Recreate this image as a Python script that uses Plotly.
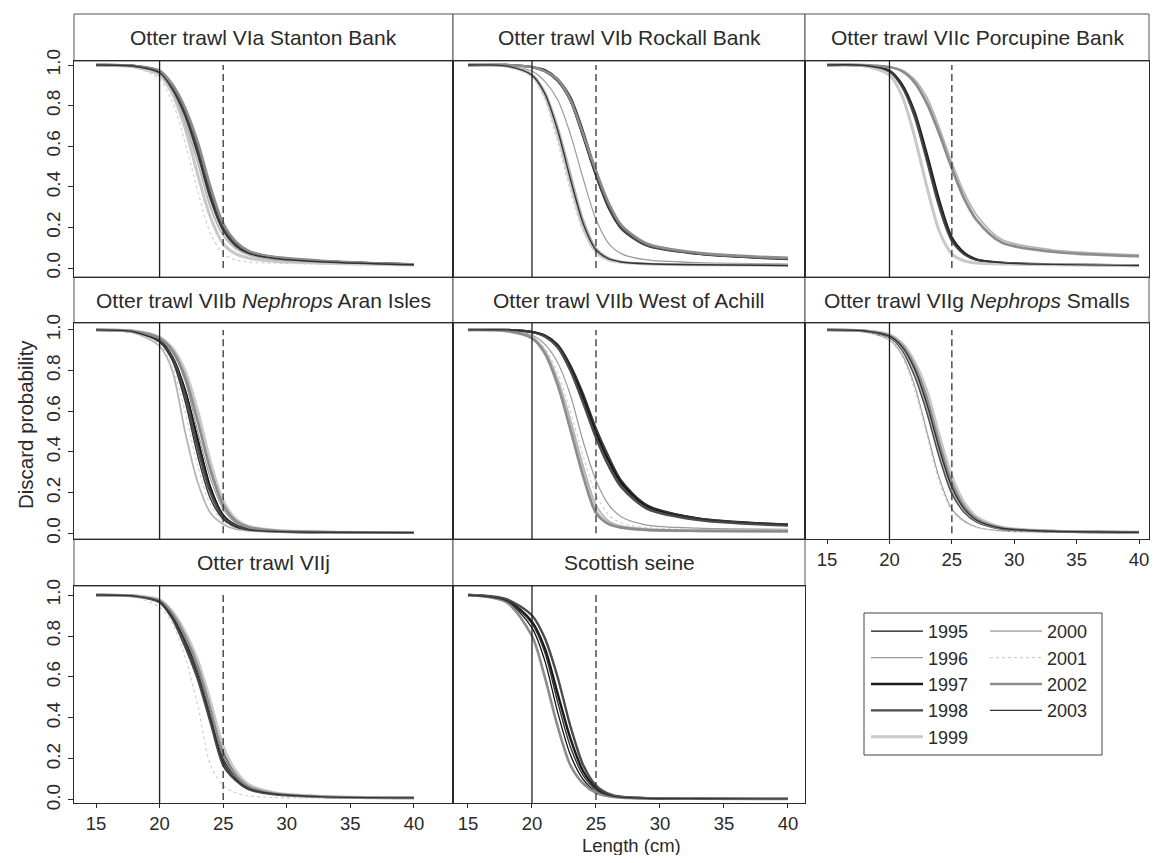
import plotly.graph_objects as go

# ---------------- data ----------------
length_cm = [15, 18, 20, 21, 22, 23, 24, 25, 26, 27, 29, 33, 40]
years = [1995, 1996, 1997, 1998, 1999, 2000, 2001, 2002, 2003]
panel_titles = [
    "Otter trawl VIa Stanton Bank",
    "Otter trawl VIb Rockall Bank",
    "Otter trawl VIIc Porcupine Bank",
    "Otter trawl VIIb <i>Nephrops</i> Aran Isles",
    "Otter trawl VIIb West of Achill",
    "Otter trawl VIIg <i>Nephrops</i> Smalls",
    "Otter trawl VIIj",
    "Scottish seine",
]
x_tick_vals = [15, 20, 25, 30, 35, 40]
y_tick_vals = [0.0, 0.2, 0.4, 0.6, 0.8, 1.0]
y_tick_text = ["0.0", "0.2", "0.4", "0.6", "0.8", "1.0"]
mls_cm = 20   # solid reference line
ref_cm = 25   # dashed reference line

stanton = {
    1995: [1.0, 0.995, 0.965, 0.89, 0.76, 0.57, 0.35, 0.19, 0.11, 0.075, 0.048, 0.03, 0.016],
    1996: [1.0, 0.994, 0.96, 0.88, 0.74, 0.55, 0.33, 0.18, 0.105, 0.07, 0.045, 0.029, 0.016],
    1997: [1.0, 0.996, 0.97, 0.9, 0.78, 0.6, 0.38, 0.21, 0.12, 0.08, 0.052, 0.033, 0.018],
    1998: [1.0, 0.995, 0.968, 0.895, 0.77, 0.59, 0.37, 0.2, 0.115, 0.078, 0.05, 0.032, 0.017],
    1999: [1.0, 0.99, 0.95, 0.86, 0.69, 0.46, 0.25, 0.12, 0.07, 0.05, 0.034, 0.024, 0.015],
    2000: [1.0, 0.993, 0.958, 0.875, 0.72, 0.52, 0.3, 0.16, 0.095, 0.065, 0.042, 0.028, 0.016],
    2001: [1.0, 0.99, 0.93, 0.82, 0.62, 0.38, 0.17, 0.07, 0.04, 0.03, 0.024, 0.019, 0.014],
    2002: [1.0, 0.996, 0.972, 0.905, 0.79, 0.62, 0.4, 0.22, 0.13, 0.085, 0.055, 0.035, 0.018],
    2003: [1.0, 0.994, 0.962, 0.88, 0.75, 0.56, 0.34, 0.185, 0.108, 0.072, 0.047, 0.03, 0.016],
}
rockall = {
    1995: [1.0, 1.0, 0.99, 0.97, 0.92, 0.82, 0.64, 0.45, 0.29, 0.19, 0.11, 0.07, 0.045],
    1996: [1.0, 0.995, 0.97, 0.92, 0.83, 0.66, 0.44, 0.24, 0.12, 0.07, 0.04, 0.027, 0.02],
    1997: [1.0, 1.0, 0.99, 0.975, 0.93, 0.84, 0.67, 0.47, 0.31, 0.2, 0.115, 0.072, 0.046],
    1998: [1.0, 1.0, 0.99, 0.97, 0.925, 0.83, 0.655, 0.46, 0.3, 0.195, 0.11, 0.07, 0.044],
    1999: [1.0, 0.995, 0.95, 0.85, 0.66, 0.42, 0.2, 0.08, 0.04, 0.028, 0.02, 0.016, 0.013],
    2000: [1.0, 0.996, 0.955, 0.87, 0.7, 0.47, 0.24, 0.1, 0.05, 0.032, 0.022, 0.017, 0.013],
    2001: [1.0, 0.994, 0.94, 0.83, 0.62, 0.38, 0.18, 0.075, 0.038, 0.027, 0.02, 0.016, 0.013],
    2002: [1.0, 1.0, 0.99, 0.97, 0.93, 0.83, 0.66, 0.48, 0.32, 0.21, 0.12, 0.075, 0.05],
    2003: [1.0, 0.995, 0.95, 0.86, 0.68, 0.44, 0.22, 0.09, 0.045, 0.03, 0.021, 0.016, 0.013],
}
porcupine = {
    1995: [1.0, 0.998, 0.97, 0.9, 0.76, 0.54, 0.31, 0.14, 0.07, 0.04, 0.025, 0.018, 0.013],
    1996: [1.0, 1.0, 0.99, 0.97, 0.92, 0.82, 0.67, 0.5, 0.35, 0.24, 0.13, 0.085, 0.06],
    1997: [1.0, 0.998, 0.972, 0.905, 0.77, 0.56, 0.33, 0.15, 0.075, 0.042, 0.026, 0.018, 0.013],
    1998: [1.0, 0.997, 0.968, 0.895, 0.75, 0.53, 0.3, 0.135, 0.068, 0.04, 0.025, 0.018, 0.013],
    1999: [1.0, 0.995, 0.95, 0.85, 0.65, 0.4, 0.18, 0.07, 0.035, 0.025, 0.02, 0.016, 0.012],
    2000: [1.0, 1.0, 0.99, 0.975, 0.93, 0.84, 0.69, 0.52, 0.37, 0.26, 0.14, 0.09, 0.065],
    2002: [1.0, 1.0, 0.99, 0.97, 0.915, 0.81, 0.66, 0.49, 0.34, 0.235, 0.125, 0.08, 0.058],
    2003: [1.0, 0.998, 0.97, 0.9, 0.77, 0.55, 0.32, 0.145, 0.072, 0.041, 0.026, 0.018, 0.013],
}
aran = {
    1995: [1.0, 0.99, 0.95, 0.87, 0.71, 0.47, 0.23, 0.09, 0.04, 0.02, 0.01, 0.006, 0.004],
    1996: [1.0, 0.99, 0.955, 0.89, 0.75, 0.5, 0.27, 0.12, 0.05, 0.025, 0.012, 0.006, 0.004],
    1997: [1.0, 0.99, 0.948, 0.865, 0.7, 0.45, 0.22, 0.088, 0.038, 0.019, 0.01, 0.006, 0.004],
    1998: [1.0, 0.99, 0.945, 0.86, 0.68, 0.42, 0.2, 0.08, 0.035, 0.018, 0.009, 0.005, 0.004],
    1999: [1.0, 0.995, 0.965, 0.91, 0.8, 0.6, 0.35, 0.16, 0.07, 0.035, 0.015, 0.007, 0.004],
    2000: [1.0, 0.985, 0.92, 0.8, 0.5, 0.25, 0.1, 0.045, 0.02, 0.012, 0.007, 0.005, 0.003],
    2001: [1.0, 0.985, 0.93, 0.82, 0.6, 0.33, 0.14, 0.06, 0.028, 0.015, 0.008, 0.005, 0.003],
    2002: [1.0, 0.993, 0.96, 0.9, 0.77, 0.55, 0.31, 0.14, 0.06, 0.03, 0.013, 0.006, 0.004],
    2003: [1.0, 0.99, 0.94, 0.85, 0.65, 0.38, 0.17, 0.07, 0.03, 0.016, 0.009, 0.005, 0.003],
}
achill = {
    1995: [1.0, 1.0, 0.99, 0.97, 0.92, 0.81, 0.66, 0.49, 0.35, 0.24, 0.13, 0.07, 0.04],
    1996: [1.0, 0.998, 0.975, 0.93, 0.84, 0.68, 0.45, 0.26, 0.14, 0.08, 0.04, 0.025, 0.02],
    1997: [1.0, 1.0, 0.99, 0.972, 0.925, 0.82, 0.67, 0.5, 0.36, 0.25, 0.135, 0.072, 0.042],
    1998: [1.0, 1.0, 0.99, 0.968, 0.915, 0.8, 0.64, 0.47, 0.33, 0.225, 0.12, 0.065, 0.038],
    1999: [1.0, 0.995, 0.96, 0.89, 0.74, 0.53, 0.3, 0.11, 0.05, 0.03, 0.018, 0.012, 0.01],
    2000: [1.0, 0.996, 0.965, 0.9, 0.76, 0.56, 0.33, 0.14, 0.06, 0.035, 0.02, 0.013, 0.01],
    2001: [1.0, 0.996, 0.968, 0.91, 0.79, 0.6, 0.38, 0.19, 0.09, 0.05, 0.028, 0.018, 0.014],
    2002: [1.0, 0.995, 0.96, 0.885, 0.73, 0.51, 0.28, 0.1, 0.045, 0.028, 0.017, 0.012, 0.01],
    2003: [1.0, 1.0, 0.99, 0.975, 0.93, 0.83, 0.69, 0.52, 0.38, 0.26, 0.14, 0.075, 0.045],
}
smalls = {
    1995: [1.0, 0.995, 0.97, 0.92, 0.81, 0.64, 0.42, 0.23, 0.12, 0.065, 0.025, 0.01, 0.005],
    1996: [1.0, 0.99, 0.95, 0.88, 0.73, 0.5, 0.27, 0.12, 0.06, 0.03, 0.012, 0.006, 0.004],
    1997: [1.0, 0.996, 0.975, 0.93, 0.835, 0.68, 0.46, 0.26, 0.14, 0.075, 0.028, 0.011, 0.005],
    1998: [1.0, 0.994, 0.965, 0.905, 0.78, 0.6, 0.38, 0.2, 0.105, 0.057, 0.022, 0.01, 0.005],
    1999: [1.0, 0.996, 0.977, 0.935, 0.845, 0.7, 0.48, 0.28, 0.15, 0.08, 0.03, 0.011, 0.005],
    2000: [1.0, 0.995, 0.968, 0.912, 0.795, 0.62, 0.4, 0.215, 0.112, 0.061, 0.024, 0.01, 0.005],
    2001: [1.0, 0.99, 0.95, 0.87, 0.71, 0.48, 0.25, 0.11, 0.055, 0.028, 0.011, 0.006, 0.004],
    2002: [1.0, 0.995, 0.972, 0.925, 0.825, 0.66, 0.44, 0.245, 0.13, 0.07, 0.026, 0.01, 0.005],
    2003: [1.0, 0.995, 0.97, 0.918, 0.81, 0.635, 0.415, 0.228, 0.12, 0.064, 0.025, 0.01, 0.005],
}
viij = {
    1995: [1.0, 0.995, 0.97, 0.9, 0.78, 0.63, 0.42, 0.2, 0.11, 0.06, 0.03, 0.015, 0.01],
    1997: [1.0, 0.996, 0.975, 0.915, 0.81, 0.67, 0.46, 0.24, 0.13, 0.07, 0.033, 0.016, 0.01],
    1998: [1.0, 0.994, 0.965, 0.885, 0.75, 0.59, 0.38, 0.17, 0.095, 0.052, 0.027, 0.014, 0.01],
    1999: [1.0, 0.996, 0.977, 0.92, 0.82, 0.68, 0.48, 0.26, 0.14, 0.075, 0.035, 0.017, 0.011],
    2001: [1.0, 0.99, 0.94, 0.86, 0.7, 0.46, 0.17, 0.07, 0.035, 0.02, 0.012, 0.008, 0.006],
    2002: [1.0, 0.995, 0.972, 0.91, 0.8, 0.65, 0.44, 0.22, 0.12, 0.065, 0.031, 0.015, 0.01],
    2003: [1.0, 0.995, 0.968, 0.895, 0.77, 0.61, 0.4, 0.185, 0.1, 0.056, 0.029, 0.015, 0.01],
}
seine = {
    1995: [1.0, 0.97, 0.84, 0.68, 0.43, 0.22, 0.1, 0.04, 0.02, 0.012, 0.008, 0.006, 0.005],
    1997: [1.0, 0.975, 0.87, 0.74, 0.52, 0.3, 0.14, 0.06, 0.025, 0.014, 0.008, 0.006, 0.005],
    1998: [1.0, 0.98, 0.9, 0.79, 0.6, 0.36, 0.17, 0.07, 0.03, 0.015, 0.009, 0.006, 0.005],
    2002: [1.0, 0.965, 0.8, 0.6, 0.36, 0.17, 0.08, 0.035, 0.018, 0.011, 0.008, 0.006, 0.005],
    2003: [1.0, 0.972, 0.86, 0.72, 0.48, 0.26, 0.12, 0.05, 0.022, 0.013, 0.008, 0.006, 0.005],
}
panels = [stanton, rockall, porcupine, aran, achill, smalls, viij, seine]

# ---------------- styles / geometry ----------------
year_style = {
    1995: ("#111111", 1.3, "solid"),
    1996: ("#9a9a9a", 1.2, "solid"),
    1997: ("#1a1a1a", 2.4, "solid"),
    1998: ("#4a4a4a", 2.4, "solid"),
    1999: ("#c8c8c8", 3.0, "solid"),
    2000: ("#b5b5b5", 1.8, "solid"),
    2001: ("#cfcfcf", 1.2, "dot"),
    2002: ("#8c8c8c", 2.6, "solid"),
    2003: ("#333333", 1.4, "solid"),
}
OFF = 8                                   # default body margin of the html page
W, H = 1158 - 2 * OFF, 863 - 2 * OFF      # fits the window: no scrollbars


def fx(px):
    return (px - OFF) / W


def fy(py):
    return 1 - (py - OFF) / H


col_px = [(74, 453), (453, 805), (805, 1149)]
row_px = [(61, 277), (323, 539), (586, 803)]
strip_px = [(14, 61), (277, 323), (539, 586)]
col_xrange = [[13.27, 43.07], [13.83, 41.33], [13.23, 40.8]]
row_yrange = [[-0.044, 1.02], [-0.028, 1.034], [-0.015, 1.044]]
positions = [(0, 0), (0, 1), (0, 2), (1, 0), (1, 1), (1, 2), (2, 0), (2, 1)]
show_xlabels = {6, 7, 8}
show_ylabels = {1, 4, 7}

FONT = "Liberation Sans, Arial, sans-serif"
TXT = "#2a2a2a"
LINE = "#2b2b2b"

fig = go.Figure()
shapes = []
annotations = []
layout_axes = {}
shown = set()

for k, (panel, (r, c)) in enumerate(zip(panels, positions), start=1):
    xa = "x" if k == 1 else f"x{k}"
    ya = "y" if k == 1 else f"y{k}"
    for yr in years:
        if yr not in panel:
            continue
        colr, wd, dash = year_style[yr]
        fig.add_trace(go.Scatter(
            x=length_cm, y=panel[yr], mode="lines",
            line=dict(color=colr, width=wd, dash=dash, shape="spline", smoothing=0.8),
            xaxis=xa, yaxis=ya, name=str(yr), legendgroup=str(yr),
            showlegend=(yr not in shown),
            legend="legend" if yr < 2000 else "legend2",
            hoverinfo="skip",
        ))
        shown.add(yr)

    x0, x1 = col_px[c]
    y0, y1 = row_px[r]
    sx = k in show_xlabels
    sy = k in show_ylabels
    layout_axes["xaxis" if k == 1 else f"xaxis{k}"] = dict(
        domain=[fx(x0), fx(x1)], range=col_xrange[c], anchor=ya, automargin=False,
        showline=True, mirror=True, linecolor=LINE, linewidth=1,
        showgrid=False, zeroline=False,
        tickvals=x_tick_vals, showticklabels=sx, ticklabeloverflow="allow",
        ticks="outside" if sx else "", ticklen=4, tickcolor=LINE,
        tickfont=dict(size=18.5, color=TXT, family=FONT),
    )
    layout_axes["yaxis" if k == 1 else f"yaxis{k}"] = dict(
        domain=[fy(y1), fy(y0)], range=row_yrange[r], anchor=xa, automargin=False,
        showline=True, mirror=True, linecolor=LINE, linewidth=1,
        showgrid=False, zeroline=False,
        tickvals=y_tick_vals, ticktext=y_tick_text, showticklabels=sy,
        ticks="outside" if sy else "", ticklen=5, tickcolor=LINE,
        tickangle=-90, tickfont=dict(size=19, color=TXT, family=FONT),
    )
    # reference lines
    shapes.append(dict(type="line", xref=xa, yref=f"{ya} domain", x0=mls_cm, x1=mls_cm,
                       y0=0, y1=1, line=dict(color="#1e1e1e", width=1.3), layer="above"))
    shapes.append(dict(type="line", xref=xa, yref=ya, x0=ref_cm, x1=ref_cm,
                       y0=0, y1=1, line=dict(color="#333333", width=1.3, dash="7px,4px"),
                       layer="above"))
    # strip
    s0, s1 = strip_px[r]
    shapes.append(dict(type="rect", xref="paper", yref="paper",
                       x0=fx(x0), x1=fx(x1), y0=fy(s1), y1=fy(s0),
                       line=dict(color="#555555", width=1), fillcolor="white", layer="below"))
    annotations.append(dict(text=panel_titles[k - 1], xref="paper", yref="paper",
                            x=fx((x0 + x1) / 2), y=fy((s0 + s1) / 2),
                            xanchor="center", yanchor="middle", showarrow=False,
                            font=dict(size=21, color=TXT, family=FONT)))

# legend frame
shapes.append(dict(type="rect", xref="paper", yref="paper",
                   x0=fx(864), x1=fx(1102), y0=fy(755), y1=fy(613),
                   line=dict(color="#444444", width=1), fillcolor="rgba(0,0,0,0)"))

annotations.append(dict(text="Discard probability", xref="paper", yref="paper",
                        x=fx(25), y=fy(425), textangle=-90, showarrow=False,
                        xanchor="center", yanchor="middle",
                        font=dict(size=20.5, color=TXT, family=FONT)))
annotations.append(dict(text="Length (cm)", xref="paper", yref="paper",
                        x=fx(631), y=fy(845), showarrow=False,
                        xanchor="center", yanchor="middle",
                        font=dict(size=18.5, color=TXT, family=FONT)))

legend_common = dict(xanchor="left", yanchor="top", bgcolor="rgba(0,0,0,0)",
                     borderwidth=0, font=dict(size=18, color=TXT, family=FONT),
                     itemwidth=52, tracegroupgap=0, itemclick=False, itemdoubleclick=False)

fig.update_layout(
    width=W, height=H,
    margin=dict(l=0, r=0, t=0, b=0, autoexpand=False),
    paper_bgcolor="white", plot_bgcolor="white",
    font=dict(family=FONT, color=TXT),
    showlegend=True,
    legend=dict(x=fx(866), y=fy(613), **legend_common),
    legend2=dict(x=fx(985), y=fy(613), **legend_common),
    shapes=shapes, annotations=annotations,
    **layout_axes,
)

fig.write_html("out.html")
